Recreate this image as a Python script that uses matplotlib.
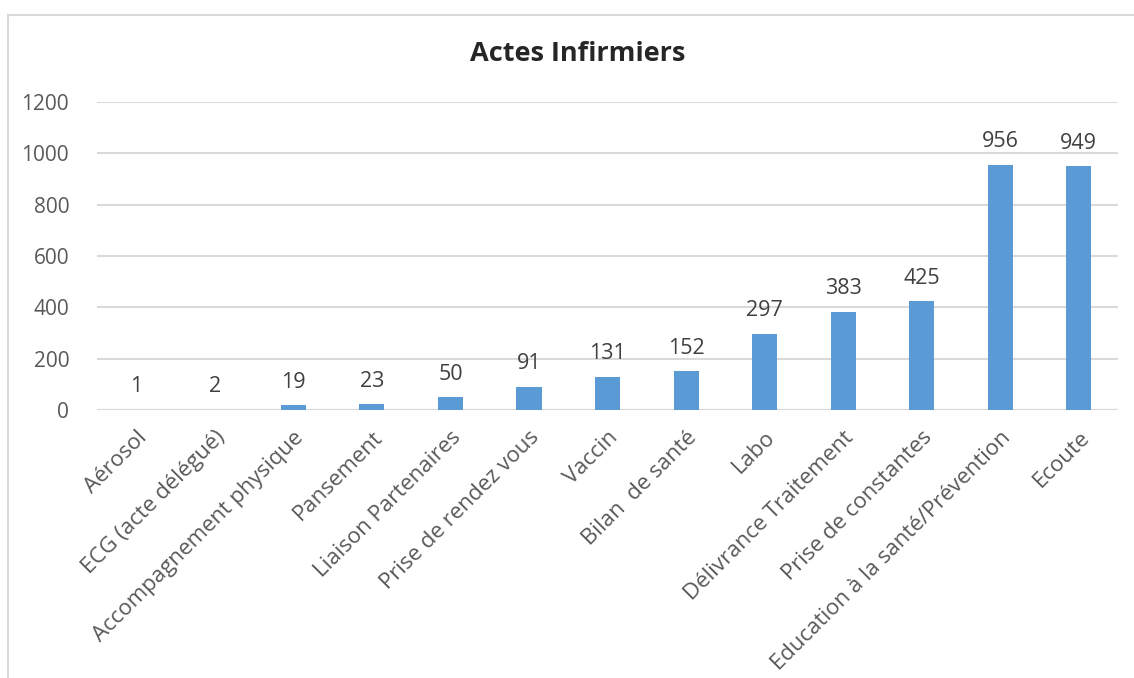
import matplotlib.pyplot as plt
from matplotlib.patches import Rectangle
import numpy as np

categories = ["Aérosol", "ECG (acte délégué)", "Accompagnement physique", "Pansement",
              "Liaison Partenaires", "Prise de rendez vous", "Vaccin", "Bilan  de santé",
              "Labo", "Délivrance Traitement", "Prise de constantes",
              "Education à la santé/Prévention", "Ecoute"]
counts = [1, 2, 19, 23, 50, 91, 131, 152, 297, 383, 425, 956, 949]
y_ticks = [0, 200, 400, 600, 800, 1000, 1200]

plt.rcParams['font.family'] = ['Open Sans', 'DejaVu Sans']

fig = plt.figure(figsize=(11.34, 6.78), dpi=100)
ax = fig.add_axes([0.0855, 0.395, 0.9005, 0.4545])

x = np.arange(len(categories))
bars = ax.bar(x, counts, width=0.32, color="#5B9BD5", zorder=3)

for xi, v in zip(x, counts):
    ax.annotate(str(v), (xi, v), xytext=(0, 9), textcoords="offset points",
                ha="center", va="bottom", fontsize=15.5, color="#404040")

ax.set_xlim(-0.5, len(categories) - 0.5)
ax.set_ylim(0, 1200)
ax.set_yticks(y_ticks)
ax.grid(axis="y", color="#D9D9D9", linewidth=1.5, zorder=0)
for s in ax.spines.values():
    s.set_visible(False)
ax.axhline(0, color="#D9D9D9", linewidth=1.5, zorder=2)
ax.tick_params(axis="y", length=0, labelsize=15, labelcolor="#595959", pad=20)
ax.set_xticks(x)
ax.set_xticklabels(categories, rotation=45, ha="right", rotation_mode="anchor")
ax.tick_params(axis="x", length=0, labelsize=16, labelcolor="#595959", pad=12)

fig.text(0.509, 0.921, "Actes Infirmiers", ha="center", va="center",
         fontsize=19.5, fontweight="bold", color="#262626")

# chart border
fig.patches.append(Rectangle((8 / 1134, -0.05), 1.2, (678 - 15) / 678 + 0.05,
                             transform=fig.transFigure, fill=False,
                             edgecolor="#D9D9D9", linewidth=1.5))

fig.savefig("out.png", dpi=100)
